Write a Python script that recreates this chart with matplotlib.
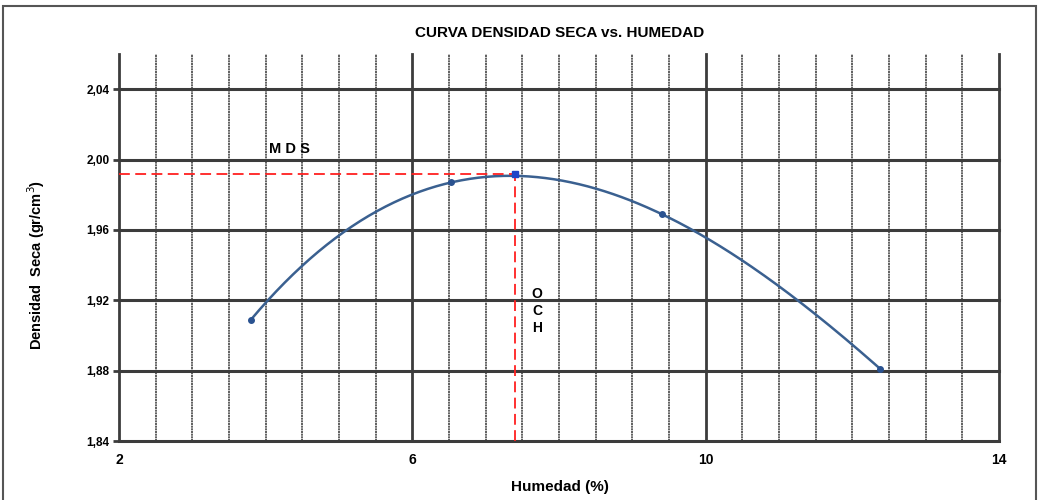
import numpy as np
import matplotlib.pyplot as plt
from matplotlib.patches import Rectangle
from matplotlib.ticker import FixedLocator

plt.rcParams['font.family'] = ['Liberation Sans', 'DejaVu Sans']

# datos
humedad = [3.8, 6.53, 9.40, 12.38]
densidad = [1.909, 1.987, 1.969, 1.881]
och = 7.4      # optimo contenido de humedad
mds = 1.992    # maxima densidad seca

x_ticks = [2, 6, 10, 14]
y_ticks = [1.84, 1.88, 1.92, 1.96, 2.00, 2.04]

fig = plt.figure(figsize=(10.4, 5), dpi=100)
ax = fig.add_axes([0.1144, 0.118, 0.8462, 0.774])

ax.set_xlim(2, 14)
ax.set_ylim(1.84, 2.06)

# rejilla
for xv in np.arange(2.5, 14, 0.5):
    if xv in x_ticks:
        continue
    ax.axvline(xv, color='#444444', lw=1.2, ls=(0, (1.2, 0.4)), zorder=1)
for xv in x_ticks:
    ax.axvline(xv, color='#3c3c3c', lw=2.0, zorder=1, clip_on=False)
for yv in y_ticks:
    ax.axhline(yv, color='#3c3c3c', lw=2.2, zorder=1, clip_on=False)

for s in ax.spines.values():
    s.set_visible(False)

ax.xaxis.set_major_locator(FixedLocator(x_ticks))
ax.yaxis.set_major_locator(FixedLocator(y_ticks))
ax.set_xticklabels([str(v) for v in x_ticks], fontsize=10, fontweight='bold')
ax.set_yticklabels([f'{v:.2f}'.replace('.', ',') for v in y_ticks], fontsize=8.5, fontweight='bold')
ax.tick_params(axis='x', length=0, pad=9)
ax.tick_params(axis='y', length=4, width=2, color='#3c3c3c', pad=3)

# curva suavizada (ajuste cubico de los puntos)
coef = np.polyfit(humedad, densidad, 3)
xs = np.linspace(humedad[0], humedad[-1], 300)
ax.plot(xs, np.polyval(coef, xs), color='#3a6090', lw=1.8, zorder=3)
ax.plot(humedad, densidad, 'o', color='#2a5290', ms=4, zorder=4)
ax.plot([och], [mds], 's', color='#1f45c8', ms=5, zorder=5)

# lineas de MDS y OCH
ax.plot([2, och], [mds, mds], color='#ff2020', lw=1.3, ls=(0, (6, 3)), zorder=4)
ax.plot([och, och], [1.84, mds], color='#ff2020', lw=1.3, ls=(0, (6, 3)), zorder=4)
ax.text(4.33, 2.006, 'M D S', fontsize=10.5, fontweight='bold', ha='center', va='center')
ax.text(7.7, 1.914, 'O\nC\nH', fontsize=10, fontweight='bold', ha='center', va='center',
        linespacing=1.3)

fig.text(0.538, 0.934, 'CURVA DENSIDAD SECA vs. HUMEDAD', fontsize=11,
         fontweight='bold', ha='center', va='center')
fig.text(0.538, 0.025, 'Humedad (%)', fontsize=11, fontweight='bold',
         ha='center', va='center')
fig.text(0.035, 0.47, 'Densidad  Seca (gr/cm$^3$)', fontsize=10.5, fontweight='bold',
         ha='center', va='center', rotation=90)

fig.patches.append(Rectangle((0.003, -0.01), 0.993, 0.998, transform=fig.transFigure,
                             fill=False, edgecolor='#555555', lw=1.5))

fig.savefig('out.png', dpi=100)
